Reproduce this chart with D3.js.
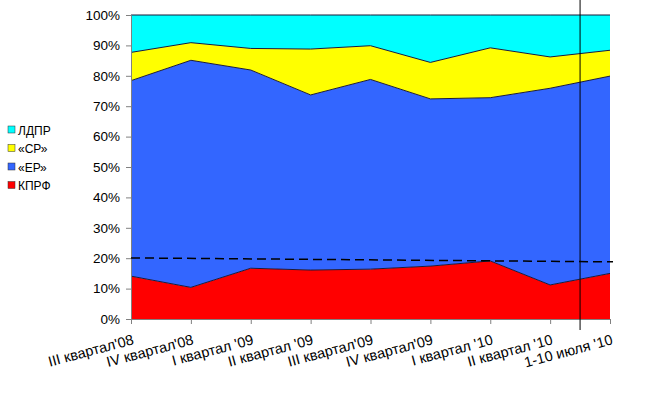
<!DOCTYPE html>
<html>
<head>
<meta charset="utf-8">
<script src="https://cdn.jsdelivr.net/npm/d3@7"></script>
<style>
    body { margin: 0; background: #fff; }
    text { font-family: 'Liberation Sans', Arial, sans-serif; fill: #000; }
</style>
</head>
<body>
<div id="chart"></div>
<script>
const categories = ['III квартал\'08', 'IV квартал\'08', 'I квартал \'09', 'II квартал \'09', 'III квартал\'09',
    'IV квартал\'09', 'I квартал \'10', 'II квартал \'10', '1-10 июля \'10'];
const seriesNames = ['КПРФ', '«ЕР»', '«СР»', 'ЛДПР'];
const kprf = [14.1, 10.4, 16.7, 16.1, 16.4, 17.4, 19.1, 11.2, 15.0];
const er = [64.3, 74.7, 65.2, 57.6, 62.4, 55.0, 53.7, 64.7, 64.9];
const sr = [9.3, 5.8, 7.1, 15.1, 11.1, 12.0, 16.4, 10.3, 8.5];
const ldpr = [12.3, 9.1, 11.0, 11.2, 10.1, 15.6, 10.8, 13.8, 11.6];
const yTicks = [0, 10, 20, 30, 40, 50, 60, 70, 80, 90, 100];
const trendLine = [20.1, 18.8];   // dashed reference line, start and end
const markerIndex = 7.5;          // vertical line between last two points

const colors = ['#ff0000', '#3366ff', '#ffff00', '#00ffff'];

const width = 649, height = 397;
const margin = { left: 131, right: 39, top: 15, bottom: 78 };

const rows = categories.map((c, i) => ({ c, КПРФ: kprf[i], '«ЕР»': er[i], '«СР»': sr[i], ЛДПР: ldpr[i] }));
const stacked = d3.stack().keys(seriesNames).offset(d3.stackOffsetExpand)(rows);

const svg = d3.select('#chart').append('svg')
    .attr('width', width)
    .attr('height', height);

const x = d3.scalePoint().domain(categories).range([margin.left, width - margin.right]);
const y = d3.scaleLinear().domain([0, 1]).range([height - margin.bottom, margin.top]);
const xi = d3.scaleLinear().domain([0, categories.length - 1]).range([margin.left, width - margin.right]);

const area = d3.area()
    .x((d) => x(d.data.c))
    .y0((d) => y(d[0]))
    .y1((d) => y(d[1]));

svg.append('g')
    .selectAll('path')
    .data(stacked)
    .join('path')
    .attr('fill', (d, i) => colors[i])
    .attr('d', area);

const line = d3.line()
    .x((d) => x(d.data.c))
    .y((d) => y(d[1]));

svg.append('g')
    .selectAll('path')
    .data(stacked)
    .join('path')
    .attr('fill', 'none')
    .attr('stroke', '#1a1a3a')
    .attr('stroke-width', 1)
    .attr('d', line);

// y axis
const yAxis = svg.append('g')
    .attr('transform', `translate(${margin.left},0)`)
    .call(d3.axisLeft(y).tickValues(yTicks.map((v) => v / 100)).tickFormat((d) => Math.round(d * 100) + '%').tickSize(5).tickPadding(6));
yAxis.select('.domain').attr('stroke', '#808080');
yAxis.selectAll('line').attr('stroke', '#808080');
yAxis.selectAll('text').attr('font-size', 13.5).attr('fill', '#000');

// x axis
const xAxis = svg.append('g')
    .attr('transform', `translate(0,${height - margin.bottom})`)
    .call(d3.axisBottom(x).tickSize(5).tickSizeOuter(0));
xAxis.select('.domain').attr('stroke', '#808080');
xAxis.selectAll('line').attr('stroke', '#808080');
xAxis.selectAll('text')
    .attr('font-size', 14.5)
    .attr('fill', '#000')
    .attr('text-anchor', 'end')
    .attr('dy', 0)
    .attr('y', 0)
    .attr('transform', 'translate(3,25) rotate(-15)');

// dashed trend line
svg.append('line')
    .attr('x1', xi(0)).attr('y1', y(trendLine[0] / 100))
    .attr('x2', xi(categories.length - 1) + 3).attr('y2', y(trendLine[1] / 100))
    .attr('stroke', '#000')
    .attr('stroke-width', 1.5)
    .attr('stroke-dasharray', '9,5');

// vertical marker line
svg.append('line')
    .attr('x1', xi(markerIndex)).attr('y1', 0)
    .attr('x2', xi(markerIndex)).attr('y2', height - margin.bottom + 11)
    .attr('stroke', '#000')
    .attr('stroke-width', 1);

// legend
const legend = svg.append('g')
    .attr('transform', 'translate(8,130)')
    .selectAll('g')
    .data(seriesNames.slice().reverse())
    .join('g')
    .attr('transform', (d, i) => `translate(0,${i * 18.5})`);
legend.append('rect')
    .attr('x', 0).attr('y', -4)
    .attr('width', 7).attr('height', 7)
    .attr('fill', (d) => colors[seriesNames.indexOf(d)])
    .attr('stroke', '#333')
    .attr('stroke-width', 0.5);
legend.append('text')
    .attr('x', 10).attr('y', 4.5)
    .attr('font-size', 12)
    .text((d) => d);
</script>
</body>
</html>
